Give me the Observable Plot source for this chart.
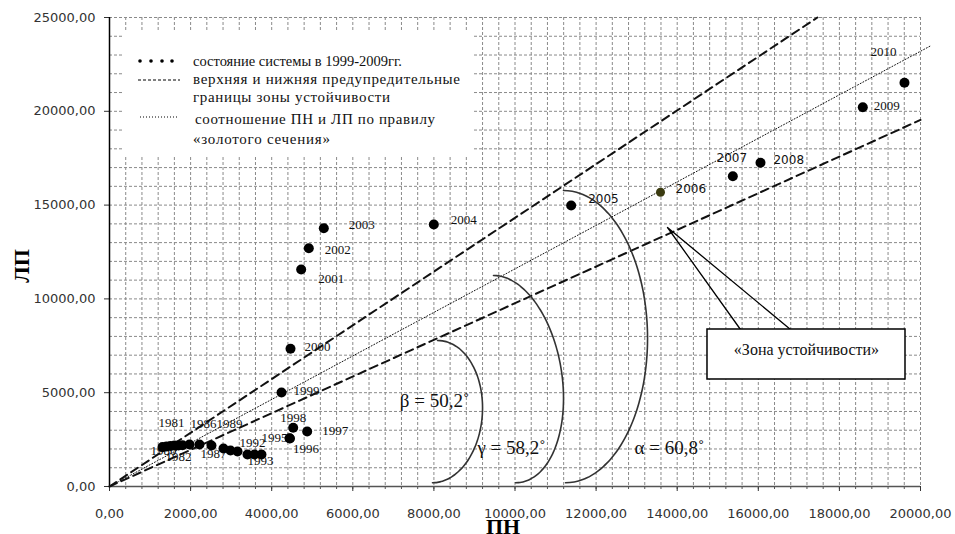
<!DOCTYPE html>
<html><head><meta charset="utf-8">
<script src="https://cdn.jsdelivr.net/npm/d3@7"></script>
<script src="https://cdn.jsdelivr.net/npm/@observablehq/plot@0.6"></script>
<style>body{margin:0;background:#fff} svg{display:block}</style>
</head><body><div id="chart"></div>
<script>
// ---- data ----
const years = [1980,1981,1982,1983,1984,1985,1986,1987,1988,1989,1990,1991,1992,1993,1994,1995,1996,1997,1998,1999,2000,2001,2002,2003,2004,2005,2006,2007,2008,2009,2010];
const pn = [1307,1406,1504,1603,1702,1800,1973,2219,2515,2811,2984,3157,3403,3576,3748,4439,4450,4875,4530,4242,4464,4727,4915,5285,7998,11385,13588,15372,16054,18577,19605];
const lp = [2100,2130,2160,2180,2190,2200,2239,2239,2186,2026,1919,1866,1706,1706,1706,2575,2560,2932,3128,5011,7340,11567,12703,13769,13966,14979,15688,16541,17255,20219,21519];
const xTicks = [0,2000,4000,6000,8000,10000,12000,14000,16000,18000,20000];
const yTicks = [0,5000,10000,15000,20000,25000];
// boundary lines (ПН, ЛП end points)
const upperX = [0, 17458], upperY = [0, 25000];
const lowerX = [0, 20000], lowerY = [0, 19540];
const goldenX = [0, 20250], goldenY = [0, 23490];
// angle arcs: top point, bottom point, bulge (data units)
const arcNames = ["β","γ","α"];
const arcTopX = [8089, 9470, 11196], arcTopY = [7783, 11247, 15778];
const arcBotX = [7965, 10012, 11245], arcBotY = [200, 200, 200];
const arcBulge = [1171, 1430, 2048];
const angleText = ["β = 50,2˚", "γ = 58,2˚", "α = 60,8˚"];
const angleX = [8015, 9914, 13810], angleY = [4584, 2079, 2079];
// callout
const calloutText = "«Зона устойчивости»";
const calloutPtrX = [15561, 13761, 16794], calloutPtrY = [8369, 13806, 8369];
const calloutBox = {x1: 14747, x2: 19630, y1: 5704, y2: 8369};
const calloutTextX = 17188, calloutTextY = 7303;
// legend texts
const legendTexts = ["состояние системы в 1999-2009гг.", "верхняя и нижняя предупредительные", "границы зоны устойчивости", "соотношение ПН и ЛП по правилу", "«золотого сечения»"];

// ---- label placement (px) ----
const labelPos = {
  1980:[-12,4,"start"],1981:[-8,-24,"start"],1982:[-5,11,"start"],1986:[1,-21,"start"],
  1987:[1,9,"start"],1989:[-7,-25,"start"],1992:[-8,-12,"start"],1993:[-7,6,"start"],
  1995:[-2,0,"end"],1996:[3,10,"start"],1997:[15,-1,"start"],1998:[0,-10,"middle"],
  1999:[12,-2,"start"],2000:[14,-2,"start"],2001:[17,9,"start"],2002:[16,2,"start"],
  2003:[25,-3,"start"],2004:[17,-5,"start"],2005:[17,-6,"start"],2006:[15,-3,"start"],
  2007:[-1,-18,"middle"],2008:[13,-3,"start"],2009:[11,-1,"start"],2010:[-21,-31,"middle"]
};
const sansYears = new Set([2005,2006,2007,2008]);

const pts = years.map((yr,i)=>({year:yr, pn:pn[i], lp:lp[i]}));
const fmt = d => d.toFixed(2).replace(".", ",");
const serif = "Liberation Serif, Times New Roman, serif";
const sans = "DejaVu Sans, sans-serif";

// arc point generation
const arcPts = [];
arcNames.forEach((n,k)=>{
  for (let a=-90; a<=90; a+=3) {
    const t = a*Math.PI/180;
    const s = (1+Math.sin(t))/2;
    const yc = arcBotY[k] + (arcTopY[k]-arcBotY[k])*s;
    const xc = arcBotX[k] + (arcTopX[k]-arcBotX[k])*s;
    arcPts.push({arc:n, x: xc + arcBulge[k]*Math.cos(t), y: yc});
  }
});

const labelMarks = [];
pts.forEach(p=>{
  const lp_ = labelPos[p.year];
  if (!lp_) return;
  const boxed = p.year >= 2000;
  labelMarks.push(Plot.text([p], {
    x:"pn", y:"lp", text: d=>String(d.year), dx: lp_[0], dy: lp_[1], textAnchor: lp_[2],
    fontFamily: sansYears.has(p.year) ? sans : serif,
    fontSize: sansYears.has(p.year) ? 12 : 13, fill:"#111",
    ariaLabel: p.year===2010 ? "boxedwide" : (boxed ? "boxed" : "lbl")
  }));
});

const plot = Plot.plot({
  width: 955, height: 534,
  marginLeft: 109, marginRight: 35, marginTop: 17, marginBottom: 48,
  x: {domain:[0,20000]}, y: {domain:[0,25000]},
  style: {fontFamily: sans, background:"#fff"},
  marks: [
    Plot.gridX(d3.range(0,20001,400), {stroke:"#8a8a8a", strokeOpacity:1, strokeDasharray:"3,2"}),
    Plot.gridY(d3.range(0,25001,1000), {stroke:"#8a8a8a", strokeOpacity:1, strokeDasharray:"3,2"}),
    Plot.axisX({ticks: d3.range(0,20001,400), tickSize:3, tickFormat: ()=>"", label:null, color:"#555"}),
    Plot.axisX({ticks: xTicks, tickSize:5, tickPadding:17, tickFormat: fmt, label:null, fontSize:13, fontFamily:sans, color:"#333"}),
    Plot.axisY({ticks: yTicks, tickSize:5, tickPadding:9, tickFormat: fmt, label:null, fontSize:13, fontFamily:sans, color:"#333"}),
    Plot.ruleY([0], {stroke:"#555", strokeWidth:1.5}),
    Plot.ruleX([0], {stroke:"#000", strokeWidth:1.5}),
    Plot.line(upperX.map((x,i)=>({x, y:upperY[i]})), {x:"x", y:"y", stroke:"#111", strokeWidth:2, strokeDasharray:"8,5"}),
    Plot.line(lowerX.map((x,i)=>({x, y:lowerY[i]})), {x:"x", y:"y", stroke:"#111", strokeWidth:2, strokeDasharray:"8,5"}),
    Plot.line(goldenX.map((x,i)=>({x, y:goldenY[i]})), {x:"x", y:"y", stroke:"#111", strokeWidth:1, strokeDasharray:"1,2"}),
    Plot.line(arcPts, {x:"x", y:"y", z:"arc", stroke:"#333", strokeWidth:1.6, curve:"catmull-rom"}),
    Plot.text(angleText.map((t,i)=>({t, x:angleX[i], y:angleY[i]})), {x:"x", y:"y", text:"t", fontFamily:serif, fontSize:19, fill:"#111"}),
    Plot.line(calloutPtrX.map((x,i)=>({x, y:calloutPtrY[i]})), {x:"x", y:"y", stroke:"#000", strokeWidth:1.3}),
    Plot.rect([calloutBox], {x1:"x1", x2:"x2", y1:"y1", y2:"y2", fill:"#fff", stroke:"#000", strokeWidth:1.5}),
    Plot.text([calloutText], {x: calloutTextX, y: calloutTextY, text: d=>d, fontFamily:serif, fontSize:16, fill:"#111"}),
    ...labelMarks,
    Plot.dot(pts.filter(d=>d.year!==2006), {x:"pn", y:"lp", r:5, fill:"#000", stroke:"none"}),
    Plot.dot(pts.filter(d=>d.year===2006), {x:"pn", y:"lp", r:4.5, fill:"#3b3b10", stroke:"none"})
  ]
});
document.getElementById("chart").appendChild(plot);

const svg = d3.select(plot);
// white boxes behind labels
function boxify(sel, pl, pr, pt, pb) {
  svg.selectAll(`g[aria-label="${sel}"] text`).each(function(){
    const b = this.getBBox();
    d3.select(this.parentNode).insert("rect", () => this)
      .attr("x", b.x-pl).attr("y", b.y-pt).attr("width", b.width+pl+pr).attr("height", b.height+pt+pb)
      .attr("fill", "#fff");
  });
}
boxify("boxed", 2, 2, 0, 0);
boxify("boxedwide", 7, 19, 8, 6);

// legend
const lg = svg.append("g").attr("text-anchor","start");
lg.append("rect").attr("x",123).attr("y",30).attr("width",351).attr("height",127).attr("fill","#fff");
[140,151,162,172].forEach(cx => lg.append("circle").attr("cx",cx).attr("cy",61).attr("r",1.8).attr("fill","#000"));
lg.append("line").attr("x1",138).attr("x2",180).attr("y1",80).attr("y2",80).attr("stroke","#000").attr("stroke-dasharray","3,2");
lg.append("line").attr("x1",140).attr("x2",179).attr("y1",117).attr("y2",117).attr("stroke","#000").attr("stroke-dasharray","1,2");
const legendPlace = [[193,66,null,14.5],[193,84,267,15],[193,102,197,15],[195,124,240,15],[193,144,137,15]];
legendTexts.forEach((t,i) => {
  const [x,y,w,fs] = legendPlace[i];
  const el = lg.append("text").attr("x",x).attr("y",y).attr("text-anchor","start").text(t)
    .attr("font-family", serif).attr("font-size",fs).attr("fill","#111");
  if (w) el.attr("textLength", w).attr("lengthAdjust","spacing");
});

// axis titles
svg.append("text").attr("x",503).attr("y",534).attr("text-anchor","middle")
  .attr("font-family",serif).attr("font-weight","bold").attr("font-size",22).attr("fill","#000").text("ПН");
svg.append("text").attr("transform","translate(29,266) rotate(-90)").attr("text-anchor","middle")
  .attr("font-family",serif).attr("font-weight","bold").attr("font-size",22).attr("fill","#000").text("ЛП");
</script>
</body></html>
